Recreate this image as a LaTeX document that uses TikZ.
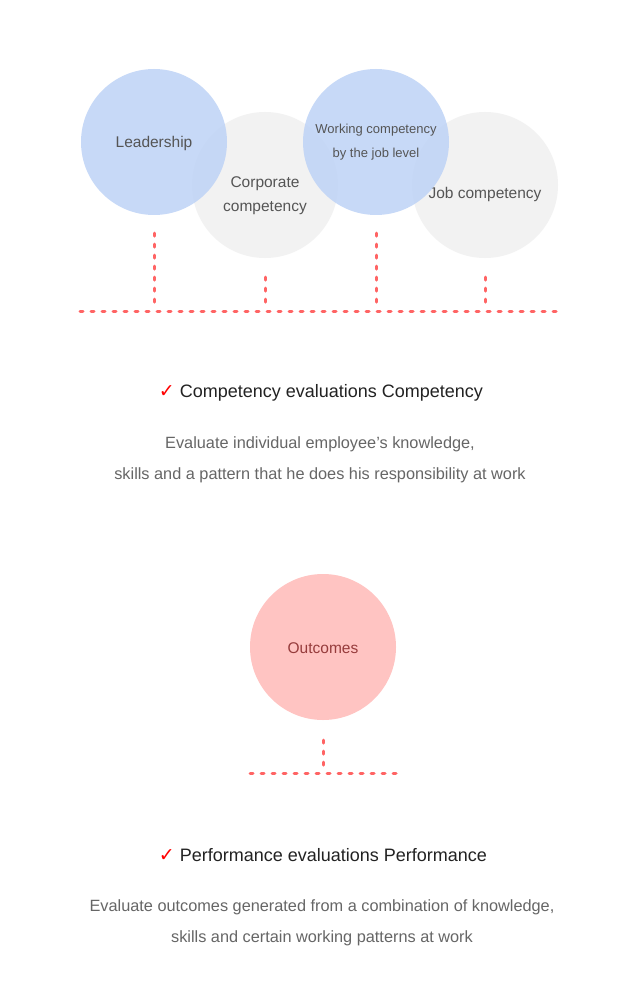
\documentclass[tikz,border=0pt]{standalone}
\usepackage{fontspec}
\setmainfont{Liberation Sans}
\newfontfamily\symfont{DejaVu Sans}
\usepackage{tikz}
\usetikzlibrary{positioning}
\usepackage{xcolor}
\definecolor{compblue}{RGB}{190,211,246}
\definecolor{basegray}{RGB}{242,242,242}
\definecolor{outpink}{RGB}{255,196,194}
\definecolor{dotred}{RGB}{255,100,100}
\definecolor{labgray}{RGB}{85,85,85}
\definecolor{txtgray}{RGB}{102,102,102}

\begin{document}
\begin{tikzpicture}[x=1pt,y=-1pt]
  \tikzstyle{base}=[circle,fill=basegray,minimum size=146pt,inner sep=0pt]
  \tikzstyle{comp}=[circle,fill=compblue,fill opacity=.85,text opacity=1,minimum size=146pt,inner sep=0pt,text=labgray,font=\fontsize{15.5}{24}\selectfont,align=center]
  \tikzstyle{lab}=[text=labgray,font=\fontsize{15.5}{24}\selectfont,align=center]
  \tikzstyle{outc}=[circle,fill=outpink,minimum size=146pt,inner sep=0pt,text={rgb,255:red,150;green,60;blue,60},font=\fontsize{15.5}{24}\selectfont]
  \tikzstyle{dots}=[dotred,line width=3pt,line cap=round,dash pattern=on 3pt off 8pt]
  \tikzstyle{head}=[text={rgb,255:red,34;green,34;blue,34},font=\fontsize{18}{22}\selectfont]
  \tikzstyle{body}=[text=txtgray,font=\fontsize{16.3}{31}\selectfont,align=center]
  \useasboundingbox[fill=white](0,0) rectangle (640,1000);
  % competency circles
  \node(corp) at (265,185)[base]{};
  \node(job) at (485,185)[base]{};
  \node(corp-lab) at ([yshift=-11pt]corp.center)[lab]{Corporate\\competency};
  \node(job-lab) at ([yshift=-9pt]job.center)[lab]{Job competency};
  \node(lead) at (154,142)[comp,text height=15pt,text depth=3pt]{Leadership};
  \node(work) at (376,142)[comp,font=\fontsize{13}{24}\selectfont]{Working competency\\by the job level};
  % dotted bar
  \coordinate(bar-l) at (80,311);
  \coordinate(bar-r) at (560,311);
  \draw[dots](bar-l)--(bar-r);
  \draw[dots]([yshift=-18pt]lead.south)--([yshift=6pt]lead.south|-bar-l);
  \draw[dots]([yshift=-19pt]corp.south)--([yshift=6pt]corp.south|-bar-l);
  \draw[dots]([yshift=-18pt]work.south)--([yshift=6pt]work.south|-bar-l);
  \draw[dots]([yshift=-19pt]job.south)--([yshift=6pt]job.south|-bar-l);
  % competency text
  \node(comp-head) at (321,393)[head]{{\symfont\color{red}\fontsize{19}{19}\selectfont ✓}\ Competency evaluations Competency};
  \node(comp-body) at (320,460)[body]{Evaluate individual employee’s knowledge,\\skills and a pattern that he does his responsibility at work};
  % performance
  \node(outc) at (323,647)[outc,text height=15pt,text depth=3pt]{Outcomes};
  \coordinate(pbar-l) at (250,773);
  \coordinate(pbar-r) at (398,773);
  \draw[dots](pbar-l)--(pbar-r);
  \draw[dots]([yshift=-20pt]outc.south)--([yshift=6pt]outc.south|-pbar-l);
  \node(perf-head) at (323,855)[head]{{\symfont\color{red}\fontsize{19}{19}\selectfont ✓}\ Performance evaluations Performance};
  \node(perf-body) at (322,923)[body]{Evaluate outcomes generated from a combination of knowledge,\\skills and certain working patterns at work};
\end{tikzpicture}
\end{document}
